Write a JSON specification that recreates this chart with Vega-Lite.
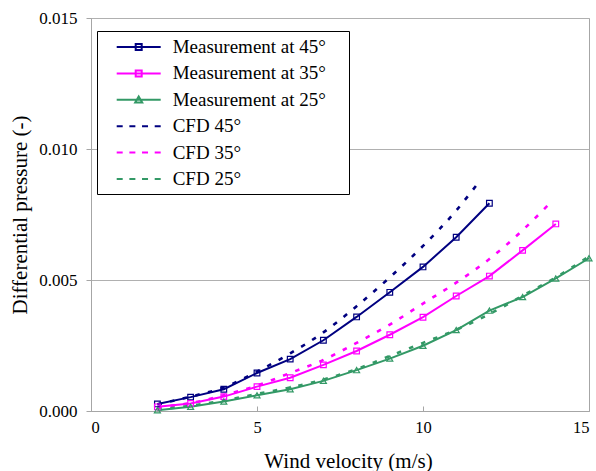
{
  "$schema": "https://vega.github.io/schema/vega-lite/v6.json",
  "width": 498,
  "height": 393,
  "autosize": {"type": "none"},
  "padding": {"left": 91, "top": 18, "right": 7, "bottom": 60},
  "background": "white",
  "config": {
    "view": {"stroke": "#a6a6a6", "strokeWidth": 1},
    "axis": {
      "labelColor": "black",
      "titleColor": "black",
      "titleFontWeight": "normal",
      "domainColor": "#a6a6a6",
      "tickColor": "#a6a6a6",
      "gridColor": "#b0b0b0"
    },
    "axisX": {"labelFont": "Times New Roman, serif", "titleFont": "Times New Roman, serif"},
    "axisY": {"labelFont": "Times New Roman, serif", "titleFont": "Times New Roman, serif"},
    "legend": {
      "orient": "none",
      "legendX": 6,
      "legendY": 13,
      "padding": 5,
      "fillColor": "white",
      "strokeColor": "black",
      "labelFont": "Times New Roman, Liberation Serif, serif",
      "labelFontSize": 19,
      "labelColor": "black",
      "symbolSize": 400,
      "symbolStrokeWidth": 2,
      "symbolOffset": 13.7,
      "labelOffset": 35,
      "rowPadding": 5.4,
      "labelLimit": 400
    }
  },
  "resolve": {"legend": {"color": "independent", "shape": "independent"}},
  "data": {
    "values": [
      {"x": 2, "y": 0.00027, "series": "Measurement at 45°", "kind": "M"},
      {"x": 3, "y": 0.00053, "series": "Measurement at 45°", "kind": "M"},
      {"x": 4, "y": 0.00083, "series": "Measurement at 45°", "kind": "M"},
      {"x": 5, "y": 0.00145, "series": "Measurement at 45°", "kind": "M"},
      {"x": 6, "y": 0.00198, "series": "Measurement at 45°", "kind": "M"},
      {"x": 7, "y": 0.0027, "series": "Measurement at 45°", "kind": "M"},
      {"x": 8, "y": 0.00359, "series": "Measurement at 45°", "kind": "M"},
      {"x": 9, "y": 0.00453, "series": "Measurement at 45°", "kind": "M"},
      {"x": 10, "y": 0.0055, "series": "Measurement at 45°", "kind": "M"},
      {"x": 11, "y": 0.00663, "series": "Measurement at 45°", "kind": "M"},
      {"x": 12, "y": 0.00793, "series": "Measurement at 45°", "kind": "M"},
      {"x": 2, "y": 0.00016, "series": "Measurement at 35°", "kind": "M"},
      {"x": 3, "y": 0.00029, "series": "Measurement at 35°", "kind": "M"},
      {"x": 4, "y": 0.00055, "series": "Measurement at 35°", "kind": "M"},
      {"x": 5, "y": 0.00093, "series": "Measurement at 35°", "kind": "M"},
      {"x": 6, "y": 0.00127, "series": "Measurement at 35°", "kind": "M"},
      {"x": 7, "y": 0.00176, "series": "Measurement at 35°", "kind": "M"},
      {"x": 8, "y": 0.00229, "series": "Measurement at 35°", "kind": "M"},
      {"x": 9, "y": 0.00291, "series": "Measurement at 35°", "kind": "M"},
      {"x": 10, "y": 0.00358, "series": "Measurement at 35°", "kind": "M"},
      {"x": 11, "y": 0.00439, "series": "Measurement at 35°", "kind": "M"},
      {"x": 12, "y": 0.00515, "series": "Measurement at 35°", "kind": "M"},
      {"x": 13, "y": 0.00613, "series": "Measurement at 35°", "kind": "M"},
      {"x": 14, "y": 0.00714, "series": "Measurement at 35°", "kind": "M"},
      {"x": 2, "y": 0.00003, "series": "Measurement at 25°", "kind": "M"},
      {"x": 3, "y": 0.00016, "series": "Measurement at 25°", "kind": "M"},
      {"x": 4, "y": 0.00036, "series": "Measurement at 25°", "kind": "M"},
      {"x": 5, "y": 0.0006, "series": "Measurement at 25°", "kind": "M"},
      {"x": 6, "y": 0.00083, "series": "Measurement at 25°", "kind": "M"},
      {"x": 7, "y": 0.00115, "series": "Measurement at 25°", "kind": "M"},
      {"x": 8, "y": 0.00156, "series": "Measurement at 25°", "kind": "M"},
      {"x": 9, "y": 0.002, "series": "Measurement at 25°", "kind": "M"},
      {"x": 10, "y": 0.00249, "series": "Measurement at 25°", "kind": "M"},
      {"x": 11, "y": 0.00309, "series": "Measurement at 25°", "kind": "M"},
      {"x": 12, "y": 0.00383, "series": "Measurement at 25°", "kind": "M"},
      {"x": 13, "y": 0.00435, "series": "Measurement at 25°", "kind": "M"},
      {"x": 14, "y": 0.00506, "series": "Measurement at 25°", "kind": "M"},
      {"x": 15, "y": 0.00583, "series": "Measurement at 25°", "kind": "M"},
      {"x": 2, "y": 0.00025, "series": "CFD 45°", "kind": "C"},
      {"x": 3, "y": 0.00055, "series": "CFD 45°", "kind": "C"},
      {"x": 4, "y": 0.0009, "series": "CFD 45°", "kind": "C"},
      {"x": 5, "y": 0.0015, "series": "CFD 45°", "kind": "C"},
      {"x": 6, "y": 0.0022, "series": "CFD 45°", "kind": "C"},
      {"x": 7, "y": 0.003, "series": "CFD 45°", "kind": "C"},
      {"x": 8, "y": 0.004, "series": "CFD 45°", "kind": "C"},
      {"x": 9, "y": 0.0051, "series": "CFD 45°", "kind": "C"},
      {"x": 10, "y": 0.0063, "series": "CFD 45°", "kind": "C"},
      {"x": 11, "y": 0.00765, "series": "CFD 45°", "kind": "C"},
      {"x": 11.6, "y": 0.0086, "series": "CFD 45°", "kind": "C"},
      {"x": 2, "y": 0.00015, "series": "CFD 35°", "kind": "C"},
      {"x": 3, "y": 0.0003, "series": "CFD 35°", "kind": "C"},
      {"x": 4, "y": 0.0006, "series": "CFD 35°", "kind": "C"},
      {"x": 5, "y": 0.00097, "series": "CFD 35°", "kind": "C"},
      {"x": 6, "y": 0.00145, "series": "CFD 35°", "kind": "C"},
      {"x": 7, "y": 0.00195, "series": "CFD 35°", "kind": "C"},
      {"x": 8, "y": 0.0026, "series": "CFD 35°", "kind": "C"},
      {"x": 9, "y": 0.0033, "series": "CFD 35°", "kind": "C"},
      {"x": 10, "y": 0.0041, "series": "CFD 35°", "kind": "C"},
      {"x": 11, "y": 0.0049, "series": "CFD 35°", "kind": "C"},
      {"x": 12, "y": 0.0058, "series": "CFD 35°", "kind": "C"},
      {"x": 13, "y": 0.0069, "series": "CFD 35°", "kind": "C"},
      {"x": 13.8, "y": 0.0079, "series": "CFD 35°", "kind": "C"},
      {"x": 2, "y": 0.00005, "series": "CFD 25°", "kind": "C"},
      {"x": 3, "y": 0.0002, "series": "CFD 25°", "kind": "C"},
      {"x": 4, "y": 0.0004, "series": "CFD 25°", "kind": "C"},
      {"x": 5, "y": 0.00065, "series": "CFD 25°", "kind": "C"},
      {"x": 6, "y": 0.0009, "series": "CFD 25°", "kind": "C"},
      {"x": 7, "y": 0.0012, "series": "CFD 25°", "kind": "C"},
      {"x": 8, "y": 0.0016, "series": "CFD 25°", "kind": "C"},
      {"x": 9, "y": 0.0021, "series": "CFD 25°", "kind": "C"},
      {"x": 10, "y": 0.0026, "series": "CFD 25°", "kind": "C"},
      {"x": 11, "y": 0.0031, "series": "CFD 25°", "kind": "C"},
      {"x": 12, "y": 0.0037, "series": "CFD 25°", "kind": "C"},
      {"x": 13, "y": 0.0044, "series": "CFD 25°", "kind": "C"},
      {"x": 14, "y": 0.0051, "series": "CFD 25°", "kind": "C"},
      {"x": 15, "y": 0.0059, "series": "CFD 25°", "kind": "C"}
    ]
  },
  "encoding": {
    "x": {
      "field": "x",
      "type": "quantitative",
      "scale": {"domain": [0, 15], "nice": false, "zero": false},
      "axis": {
        "title": "Wind velocity (m/s)",
        "labelFont": "Times New Roman, Liberation Serif, serif",
        "titleFont": "Times New Roman, Liberation Serif, serif",
        "values": [0, 5, 10, 15],
        "grid": false,
        "tickSize": -5,
        "labelPadding": 13,
        "labelBaseline": "top",
        "labelFontSize": 16.5,
        "titleFontSize": 21,
        "titleX": 257,
        "titleY": 50,
        "titleBaseline": "middle",
        "titleAlign": "center",
        "encode": {
          "labels": {"update": {"font": {"value": "serif"}}},
          "title": {"update": {"font": {"value": "serif"}}}
        }
      }
    },
    "y": {
      "field": "y",
      "type": "quantitative",
      "scale": {"domain": [0, 0.015], "nice": false},
      "axis": {
        "title": "Differential pressure (-)",
        "labelFont": "Times New Roman, Liberation Serif, serif",
        "titleFont": "Times New Roman, Liberation Serif, serif",
        "values": [0, 0.005, 0.01, 0.015],
        "format": ".3f",
        "grid": true,
        "tickSize": 5,
        "labelPadding": 9,
        "labelFontSize": 17,
        "titleFontSize": 21,
        "titleX": -71,
        "titleY": 196.5,
        "titleAngle": -90,
        "titleBaseline": "middle",
        "titleAlign": "center",
        "encode": {
          "labels": {"update": {"font": {"value": "serif"}}},
          "title": {"update": {"font": {"value": "serif"}}}
        }
      }
    },
    "color": {
      "field": "series",
      "type": "nominal",
      "scale": {
        "domain": ["Measurement at 45°", "Measurement at 35°", "Measurement at 25°", "CFD 45°", "CFD 35°", "CFD 25°"],
        "range": ["#000080", "#ff00ff", "#339966", "#000080", "#ff00ff", "#339966"]
      },
      "legend": null
    }
  },
  "layer": [
    {
      "transform": [{"filter": "datum.kind === 'M'"}],
      "mark": {"type": "line", "strokeWidth": 2},
      "encoding": {"detail": {"field": "series"}}
    },
    {
      "transform": [{"filter": "datum.kind === 'C'"}],
      "mark": {"type": "line", "strokeWidth": 2.6, "strokeDash": [4.5, 8.5], "interpolate": "monotone"},
      "encoding": {"detail": {"field": "series"}}
    },
    {
      "transform": [{"filter": "datum.series === 'Measurement at 45°' || datum.series === 'Measurement at 35°'"}],
      "mark": {"type": "point", "shape": "square", "filled": false, "size": 32, "strokeWidth": 1.2, "opacity": 1}
    },
    {
      "transform": [{"filter": "datum.series === 'Measurement at 25°'"}],
      "mark": {"type": "point", "shape": "triangle-up", "filled": false, "size": 36, "strokeWidth": 1.2, "opacity": 1}
    },
    {
      "transform": [{"filter": "false"}],
      "mark": {"type": "point", "filled": false, "opacity": 1},
      "encoding": {
        "color": {
          "field": "series",
          "type": "nominal",
          "scale": {
            "domain": ["Measurement at 45°", "Measurement at 35°", "Measurement at 25°", "CFD 45°", "CFD 35°", "CFD 25°"],
            "range": ["#000080", "#ff00ff", "#339966", "#000080", "#ff00ff", "#339966"]
          },
          "legend": {"title": null}
        },
        "shape": {
          "field": "series",
          "type": "nominal",
          "scale": {
            "domain": ["Measurement at 45°", "Measurement at 35°", "Measurement at 25°", "CFD 45°", "CFD 35°", "CFD 25°"],
            "range": [
              "M-1,0L3.4,0M0.9,-0.3L1.5,-0.3L1.5,0.3L0.9,0.3ZM21.3,0",
              "M-1,0L3.4,0M0.9,-0.3L1.5,-0.3L1.5,0.3L0.9,0.3Z",
              "M-1,0L3.4,0M1.2,-0.33L1.55,0.27L0.85,0.27Z",
              "M-1,0L-0.4,0M0.267,0L0.867,0M1.533,0L2.133,0M2.8,0L3.4,0",
              "M-1,0L-0.4,0M0.267,0L0.867,0M1.533,0L2.133,0M2.8,0L3.4,0",
              "M-1,0L-0.4,0M0.267,0L0.867,0M1.533,0L2.133,0M2.8,0L3.4,0"
            ]
          },
          "legend": {"title": null}
        }
      }
    }
  ]
}
